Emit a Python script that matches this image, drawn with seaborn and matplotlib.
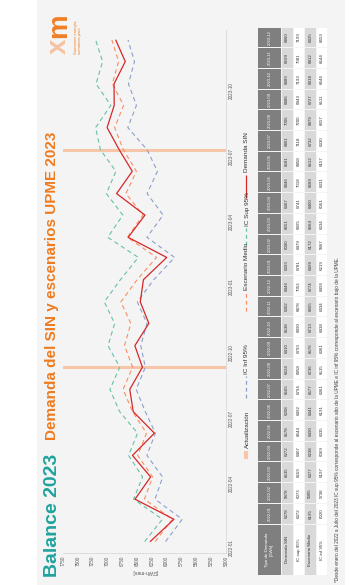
import numpy as np
import pandas as pd
import matplotlib
matplotlib.use("Agg")
import matplotlib.pyplot as plt
import matplotlib.dates as mdates
from matplotlib.patches import Rectangle
import seaborn as sns

# Monthly energy demand (GWh-mes), Jan 2022 - Dec 2023
meses = pd.date_range("2022-01-01", periods=24, freq="MS")
etiquetas_mes = [m.strftime("%Y-%m") for m in meses]

demanda_sin = [6278, 5878, 6535, 6272, 6578, 6208, 6565, 6624, 6410, 6538, 6302, 6446,
               6393, 6000, 6651, 6367, 6846, 6581, 6801, 7006, 6886, 6889, 6699, 6860]
ic_sup = [6372, 6073, 6559, 6407, 6644, 6492, 6794, 6958, 6793, 6990, 6878, 7053,
          6781, 6479, 6995, 6741, 7018, 6858, 7118, 7200, 6943, 7193, 7081, 7199]
escenario_medio = [6195, 5905, 6377, 6238, 6490, 6341, 6577, 6736, 6576, 6713, 6605, 6774,
                   6499, 6172, 6664, 6400, 6689, 6512, 6732, 6879, 6727, 6918, 6812, 6925]
ic_inf = [6020, 5738, 6197, 6069, 6335, 6191, 6361, 6515, 6361, 6438, 6334, 6496,
          6219, 5867, 6334, 6061, 6331, 6157, 6330, 6657, 6511, 6646, 6544, 6653]

actualizaciones = ["2022-09-01", "2023-07-01"]
valores_eje = list(range(5000, 7751, 250))

filas_tabla = ["Demanda SIN", "IC sup 95%", "Escenario Medio", "IC inf 95%"]
datos_tabla = [demanda_sin, ic_sup, escenario_medio, ic_inf]

sns.set_theme(style="white")
plt.rcParams["font.family"] = ["Liberation Sans", "DejaVu Sans"]

W, H = 359, 585
fig = plt.figure(figsize=(W / 100, H / 100), dpi=100, facecolor="white")


def fx(x):
    return x / W


def fy(y):
    return 1 - y / H


# Background canvas in pixel coordinates (slide is laid out rotated)
bg = fig.add_axes([0, 0, 1, 1], zorder=0)
bg.set_xlim(0, W)
bg.set_ylim(H, 0)
bg.axis("off")
bg.add_patch(Rectangle((37, 0), 308, H, facecolor="#f4f4f4", edgecolor="none"))

# Titles
bg.text(57, 577, "Balance 2023", rotation=90, rotation_mode="anchor", ha="left",
        va="baseline", color="#1fa39d", fontsize=14, fontweight="bold")
bg.text(56, 440, "Demanda del SIN y escenarios UPME 2023", rotation=90,
        rotation_mode="anchor", ha="left", va="baseline", color="#ee7b1e",
        fontsize=11, fontweight="bold")

# Logo
bg.text(66, 54, "x", rotation=90, rotation_mode="anchor", ha="left", va="baseline",
        color="#f6c3a4", fontsize=20, fontweight="bold")
bg.text(66, 38, "m", rotation=90, rotation_mode="anchor", ha="left", va="baseline",
        color="#f07f26", fontsize=20, fontweight="bold")
bg.text(73.5, 54, "Sumamos energía,\nsumamos país", rotation=90, rotation_mode="anchor",
        ha="left", va="top", color="#f07f26", fontsize=3.0, linespacing=1.1)

# Main chart: values run horizontally (inverted), months run upward
ax = fig.add_axes([fx(63), fy(553), fx(226) - fx(63), (553 - 30) / H], zorder=1)
ax.set_facecolor("none")

estilos = [
    ("IC Sup 95%", ic_sup, "#66c2a5", (0, (4, 3)), 0.8),
    ("Escenario Medio", escenario_medio, "#fc8d62", (0, (4, 3)), 0.8),
    ("IC Inf 95%", ic_inf, "#8da0cb", (0, (4, 3)), 0.8),
    ("Demanda SIN", demanda_sin, "#d62728", "-", 0.9),
]
for nombre, vals, color, ls, lw in estilos:
    df = pd.DataFrame({"fecha": meses, "valor": vals})
    sns.lineplot(data=df, x="valor", y="fecha", orient="y", estimator=None,
                 color=color, linestyle=ls, linewidth=lw, ax=ax)

for fecha in actualizaciones:
    ax.axhline(pd.Timestamp(fecha), color="#f7c6a8", lw=2.2, zorder=0)

ax.set_xlim(7750, 5000)
ax.set_xticks(valores_eje)
ax.set_ylim(pd.Timestamp("2021-12-16"), pd.Timestamp("2023-12-15"))
ax.yaxis.set_major_locator(mdates.MonthLocator(bymonth=[1, 4, 7, 10]))
ax.yaxis.set_major_formatter(mdates.DateFormatter("%Y-%m"))
ax.yaxis.tick_right()
ax.tick_params(axis="both", length=0, labelsize=3.3, labelcolor="#595959", pad=2)
ax.tick_params(axis="x", labelrotation=90)
ax.tick_params(axis="y", labelrotation=90)
ax.set_xlabel("[GWh-mes]", rotation=180, fontsize=3.6, color="#595959", labelpad=2)
ax.set_ylabel("")
for s in ["top", "left"]:
    ax.spines[s].set_visible(False)
for s in ["bottom", "right"]:
    ax.spines[s].set_color("#d9d9d9")
    ax.spines[s].set_linewidth(0.6)

# Legend (laid out along the rotated bottom edge)
leyenda = [
    ("Actualización", "#f7c6a8", "-", 3.0, 459, 451),
    ("IC Inf 95%", "#8da0cb", (0, (3, 2.5)), 0.9, 398, 376),
    ("Escenario Medio", "#fc8d62", (0, (3, 2.5)), 0.9, 311, 292),
    ("IC Sup 95%", "#66c2a5", (0, (3, 2.5)), 0.9, 245, 228),
    ("Demanda SIN", "#d62728", "-", 0.9, 198, 175),
]
for texto, color, ls, lw, y0, y1 in leyenda:
    bg.plot([246, 246], [y0, y1], color=color, linestyle=ls, lw=lw,
            solid_capstyle="butt")
    bg.text(248.5, y1 - 2.5, texto, rotation=90, rotation_mode="anchor", ha="left",
            va="baseline", fontsize=4.6, color="#333333")

# Data table
tb = fig.add_axes([fx(258), fy(575), fx(327) - fx(258), (575 - 27) / H], zorder=1)
tb.set_xlim(258, 327)
tb.set_ylim(575, 27)
tb.axis("off")

cols_x = [(258, 281), (282, 292.5), (293.5, 304), (305, 315.5), (316.5, 327)]
col_fill = ["#7f7f7f", "#d9d9d9", "#ffffff", "#d9d9d9", "#ffffff"]
label_top = 524
ancho_mes = (label_top - 27) / len(meses)


def celda(x0, x1, y0, y1, color, texto, txtcolor, fs):
    tb.add_patch(Rectangle((x0, y1 + 0.5), x1 - x0, (y0 - y1) - 1,
                           facecolor=color, edgecolor="none"))
    tb.text((x0 + x1) / 2, (y0 + y1) / 2, texto, rotation=90, ha="center",
            va="center", fontsize=fs, color=txtcolor, linespacing=1.2)


celda(*cols_x[0], 575, label_top, col_fill[0], "Tipo de Demanda\n[GWh]", "white", 3.2)
for j, nombre in enumerate(filas_tabla):
    celda(*cols_x[j + 1], 575, label_top, col_fill[j + 1], nombre, "#333333", 3.2)

for i, etiqueta in enumerate(etiquetas_mes):
    y0 = label_top - i * ancho_mes
    y1 = y0 - ancho_mes
    celda(*cols_x[0], y0, y1, col_fill[0], etiqueta, "white", 3.0)
    for j, fila in enumerate(datos_tabla):
        celda(*cols_x[j + 1], y0, y1, col_fill[j + 1], f"{fila[i]}", "#333333", 3.2)

bg.text(338.5, 582, "*Desde enero del 2022 a Julio del 2023 IC sup 95% corresponde al "
        "escenario alto de la UPME e IC inf 95% corresponde al escenario bajo de la UPME.",
        rotation=90, rotation_mode="anchor", ha="left", va="baseline",
        fontsize=3.4, color="#404040")

fig.savefig("out.png", dpi=100, facecolor="white")
